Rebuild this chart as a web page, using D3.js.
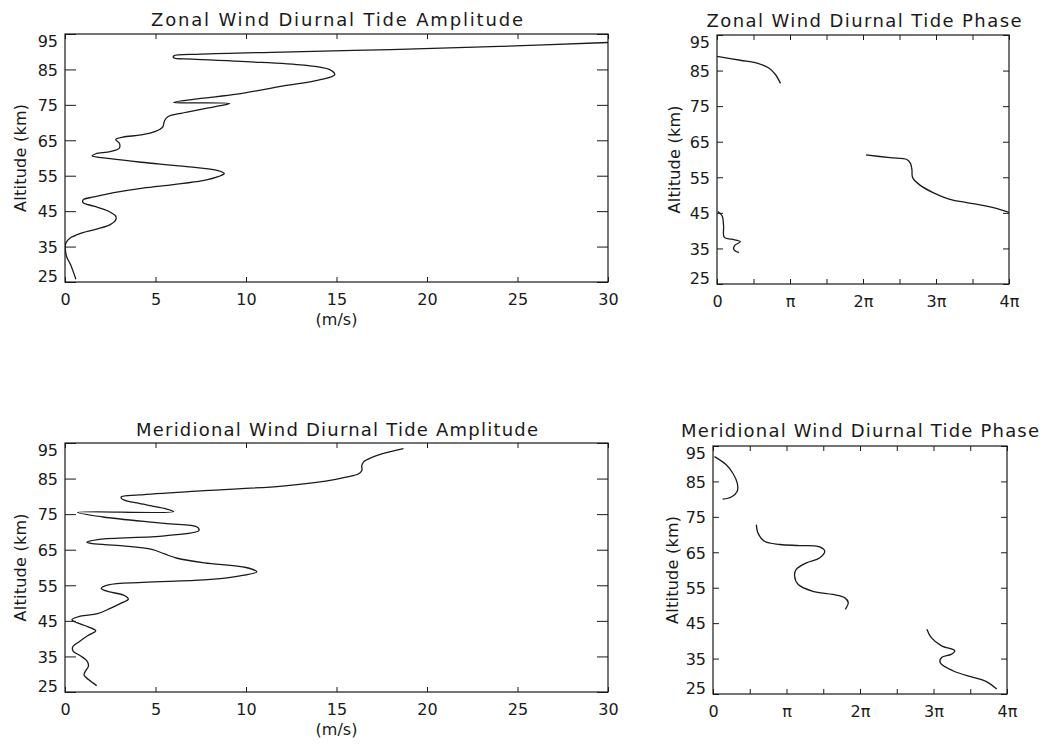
<!DOCTYPE html>
<html><head><meta charset="utf-8">
<script src="https://cdn.jsdelivr.net/npm/d3@7"></script>
<style>
body{margin:0;background:#fff}
svg{display:block}
text{font-family:"DejaVu Sans",sans-serif;fill:#1a1a1a}
</style>
</head><body>
<svg id="c" width="1048" height="748"></svg>
<script>
// ---------- data ----------
const altTicks = [25,35,45,55,65,75,85,95];
const ampTicks = [0,5,10,15,20,25,30];
const phaseTicks = [0,0.5,1,1.5,2,2.5,3,3.5,4];          // multiples of pi
const phaseTickLabels = {0:"0",1:"\u03c0",2:"2\u03c0",3:"3\u03c0",4:"4\u03c0"};

// Zonal amplitude (m/s) vs altitude (km)
const zonalAmpAlt = [25.8,28,30,32,34,36,37.3,38.8,40,41.2,42.5,43.6,45,46.4,47.4,48.2,49,50.2,51.5,52.5,53.6,54.8,55.6,56.5,57.7,58.8,59.8,60.6,61.2,61.8,62.8,64.2,65.2,65.9,66.5,67.5,68.8,70.5,71.7,72.5,73.5,74.5,75.4,75.7,76.8,78,80.3,82,83.5,85,86.2,87.2,87.9,88.3,88.8,89.3,89.9,90.6,91.5,92.6];
const zonalAmpValue = [0.6,0.45,0.3,0.1,0.02,0.05,0.25,0.9,1.8,2.5,2.8,2.8,2.4,1.6,1.0,1.0,1.6,2.7,4.3,6.0,7.6,8.5,8.8,8.4,6.5,4.2,2.5,1.5,1.7,2.5,3.0,3.0,2.8,3.2,4.2,5.0,5.4,5.5,5.7,6.3,7.3,8.3,9.1,6.0,7.5,9.5,12,14,14.9,14.6,13.2,10,7,6.0,6.0,7.5,12,18,24,30];

// Meridional amplitude (m/s) vs altitude (km)
const merAmpAlt = [26.8,28.5,29.8,31,32.4,33.8,35.2,36.5,37.6,39.2,40.8,42.2,43.4,44.5,45.3,46.3,47.0,48.5,50.0,51.1,52.3,53.2,54.1,55.1,55.8,56.5,57.5,58.8,60.0,61.3,62.6,63.8,65.1,66.1,66.7,67.1,67.9,68.9,70.4,71.4,72.4,74.2,75.5,75.7,76.6,78,79.1,79.8,80.4,81.6,82.9,84.3,85.5,86.3,87.3,88.7,89.7,90.8,92.2,93.4];
const merAmpValue = [1.75,1.3,1.05,1.15,1.3,1.2,0.85,0.45,0.42,0.8,1.25,1.7,1.25,0.65,0.38,0.85,1.8,2.5,3.1,3.5,3.2,2.4,2.0,2.4,4.3,7.7,9.5,10.6,10.0,7.7,6.2,5.5,4.8,3.2,1.5,1.2,1.9,5.5,7.4,7.3,5.5,2.1,0.7,6.0,5.5,4.1,3.2,3.1,4.1,7.7,12.0,14.4,15.6,16.2,16.4,16.4,16.5,16.9,17.7,18.7];

// Zonal phase (multiples of pi) vs altitude, three segments
const zonalPhaseA = [[0.0,89.0],[0.32,87.9],[0.55,87.1],[0.71,85.7],[0.8,83.9],[0.87,81.4]];
const zonalPhaseB = [[2.04,61.3],[2.37,60.5],[2.6,60.0],[2.65,58.9],[2.67,57.2],[2.68,54.9],[2.78,52.8],[2.96,50.7],[3.19,48.8],[3.42,47.9],[3.64,47.1],[3.87,46.0],[4.0,45.1]];
const zonalPhaseC = [[0.01,45.4],[0.07,44.2],[0.09,41.4],[0.1,38.1],[0.2,37.6],[0.32,36.9],[0.24,35.8],[0.23,34.7],[0.3,33.8]];

// Meridional phase (multiples of pi) vs altitude, three segments
const merPhaseA = [[0.02,92.0],[0.18,89.7],[0.27,87.3],[0.33,84.5],[0.33,82.2],[0.25,80.6],[0.13,80.0]];
const merPhaseB = [[0.59,72.8],[0.61,70.5],[0.7,68.1],[0.91,67.2],[1.18,66.9],[1.45,66.5],[1.52,65.3],[1.45,63.4],[1.27,62],[1.13,60.1],[1.11,58.3],[1.16,55.9],[1.36,54],[1.63,53.1],[1.79,52.2],[1.84,50.8],[1.8,48.9]];
const merPhaseC = [[2.91,43.3],[2.97,40.9],[3.11,38.6],[3.29,37.2],[3.24,36.2],[3.11,35.3],[3.09,33.9],[3.27,31.5],[3.54,29.7],[3.72,28.5],[3.86,26.4]];

// ---------- drawing ----------
const svg = d3.select("#c");
const INK = "#1a1a1a";

function panel(o){
  const x = d3.scaleLinear().domain(o.xDomain).range([o.left,o.right]);
  const y = d3.scaleLinear().domain([25,95]).range([o.bottom,o.top]);
  const g = svg.append("g");
  const id = "clip"+o.id;
  svg.append("clipPath").attr("id",id).append("rect")
    .attr("x",o.left).attr("y",o.top).attr("width",o.right-o.left).attr("height",o.bottom-o.top);

  const styleAxis = sel => {
    sel.select(".domain").remove();
    sel.selectAll("line").attr("stroke",INK).attr("stroke-width",1);
    sel.selectAll("text").attr("font-size",16).attr("fill",INK).attr("font-family","DejaVu Sans, sans-serif");
  };
  g.append("g").attr("transform",`translate(${o.left},0)`)
    .call(d3.axisLeft(y).tickValues(altTicks).tickSize(-o.yTick).tickPadding(7).tickFormat(d3.format("d")))
    .call(styleAxis).selectAll("text").attr("dy","0.36em")
    .attr("y", d => d===95 ? 7 : (d===25 ? -6 : 0));
  g.append("g").attr("transform",`translate(${o.right},0)`)
    .call(d3.axisRight(y).tickValues(altTicks).tickSize(-o.yTick).tickFormat(""))
    .call(styleAxis);
  g.append("g").attr("transform",`translate(0,${o.bottom})`)
    .call(d3.axisBottom(x).tickValues(o.xTicks).tickSize(-5).tickPadding(12).tickFormat(o.xFormat))
    .call(styleAxis);
  g.append("g").attr("transform",`translate(0,${o.top})`)
    .call(d3.axisTop(x).tickValues(o.xTicks).tickSize(-5).tickFormat(""))
    .call(styleAxis);

  // frame
  g.append("rect").attr("x",o.left).attr("y",o.top)
    .attr("width",o.right-o.left).attr("height",o.bottom-o.top)
    .attr("fill","none").attr("stroke",INK).attr("stroke-width",1.2);

  // curves
  const line = d3.line().x(d=>x(d[0])).y(d=>y(d[1])).curve(d3.curveCatmullRom.alpha(0.5));
  o.series.forEach(s=>{
    g.append("path").attr("d",line(s)).attr("fill","none")
      .attr("stroke",INK).attr("stroke-width",1.3).attr("clip-path",`url(#${id})`);
  });

  // title
  g.append("text").attr("x",o.titleX).attr("y",o.titleY).attr("text-anchor","middle")
    .attr("font-size",18).attr("textLength",o.titleLen).attr("lengthAdjust","spacing")
    .text(o.title);
  // y label
  g.append("text").attr("transform",`translate(${o.yLabX},${(o.top+o.bottom)/2}) rotate(-90)`)
    .attr("text-anchor","middle").attr("font-size",16)
    .attr("textLength",108).attr("lengthAdjust","spacing")
    .text("Altitude (km)");
  if(o.xTitle){
    g.append("text").attr("x",(o.left+o.right)/2).attr("y",o.bottom+43)
      .attr("text-anchor","middle").attr("font-size",16).text(o.xTitle);
  }
}

const ampFmt = d3.format("d");
const phaseFmt = d => (d in phaseTickLabels) ? phaseTickLabels[d] : "";
const zip = (a,b) => a.map((v,i)=>[v,b[i]]);

panel({id:1,left:65,right:608,top:34,bottom:282,xDomain:[0,30],xTicks:ampTicks,xFormat:ampFmt,yTick:11,
  title:"Zonal Wind Diurnal Tide Amplitude",titleX:337,titleY:25.5,titleLen:372,yLabX:26,xTitle:"(m/s)",
  series:[zip(zonalAmpValue,zonalAmpAlt)]});
panel({id:2,left:717,right:1009,top:35,bottom:284,xDomain:[0,4],xTicks:phaseTicks,xFormat:phaseFmt,yTick:6,
  title:"Zonal Wind Diurnal Tide Phase",titleX:864,titleY:27,titleLen:315,yLabX:680,
  series:[zonalPhaseA,zonalPhaseB,zonalPhaseC]});
panel({id:3,left:65,right:608,top:443,bottom:692,xDomain:[0,30],xTicks:ampTicks,xFormat:ampFmt,yTick:11,
  title:"Meridional Wind Diurnal Tide Amplitude",titleX:337,titleY:436,titleLen:402,yLabX:26,xTitle:"(m/s)",
  series:[zip(merAmpValue,merAmpAlt)]});
panel({id:4,left:713,right:1007,top:446,bottom:694,xDomain:[0,4],xTicks:phaseTicks,xFormat:phaseFmt,yTick:6,
  title:"Meridional Wind Diurnal Tide Phase",titleX:860,titleY:437,titleLen:358,yLabX:678,
  series:[merPhaseA,merPhaseB,merPhaseC]});
</script>
</body></html>
